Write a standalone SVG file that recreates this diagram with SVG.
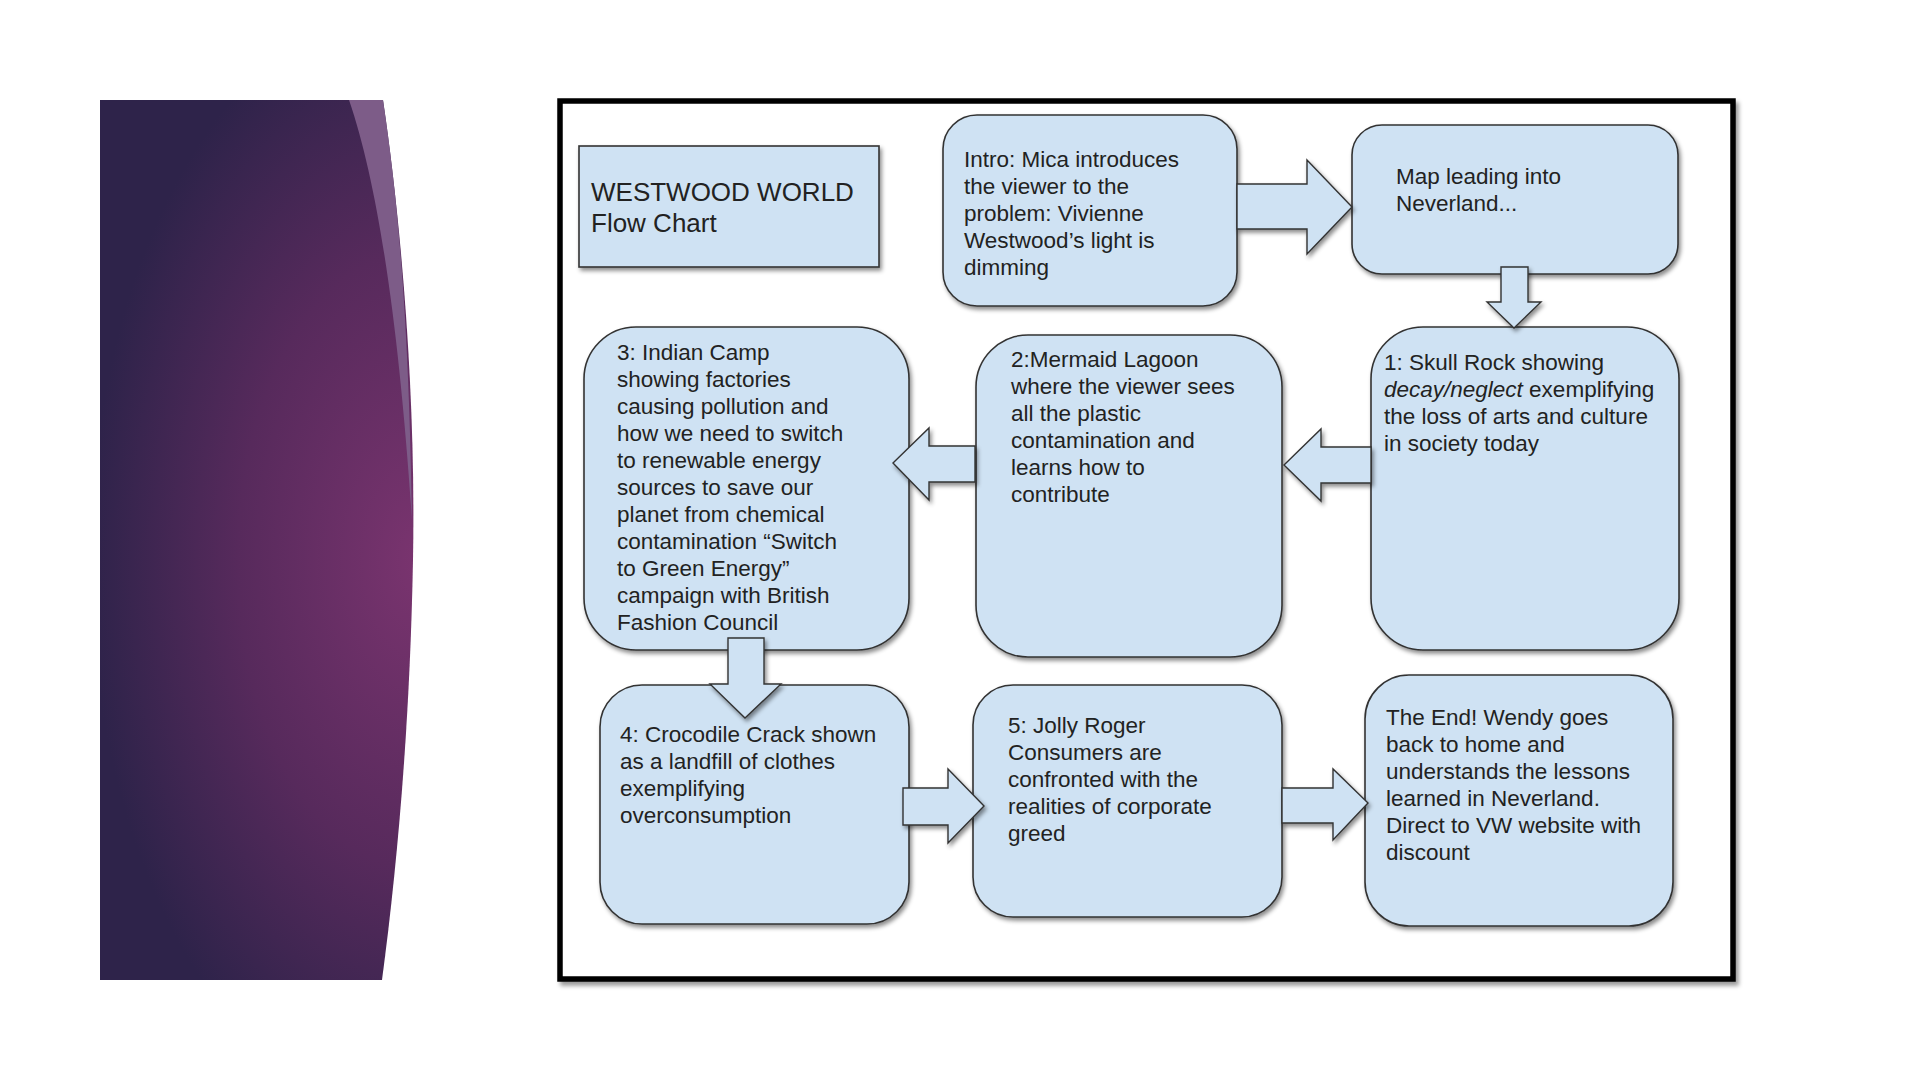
<svg xmlns="http://www.w3.org/2000/svg" width="1920" height="1080" viewBox="0 0 1920 1080">
<defs>
<radialGradient id="band" gradientUnits="userSpaceOnUse" cx="420" cy="560" r="330" gradientTransform="translate(420 560) scale(1 1.7) translate(-420 -560)">
<stop offset="0" stop-color="#7a346f"/>
<stop offset="0.55" stop-color="#572a5c"/>
<stop offset="1" stop-color="#2e234a"/>
</radialGradient>
<filter id="sh" x="-10%" y="-10%" width="125%" height="125%">
<feDropShadow dx="2" dy="3" stdDeviation="2" flood-color="#000" flood-opacity="0.45"/>
</filter>
<filter id="fsh" x="-5%" y="-5%" width="110%" height="110%">
<feDropShadow dx="3" dy="4" stdDeviation="2" flood-color="#000" flood-opacity="0.4"/>
</filter>
<style>
.box{fill:#cfe2f3;stroke:#333;stroke-width:1.6;filter:url(#sh)}
.arr{fill:#cfe2f3;stroke:#333;stroke-width:1.4;stroke-linejoin:miter;filter:url(#sh)}
text{font-family:"Liberation Sans",Arial,sans-serif;font-size:22.5px;fill:#222}
.title{font-size:26px}
</style>
</defs>
<rect width="1920" height="1080" fill="#fff"/>
<g id="side-band">
<path d="M100,100 L383,100 C402,230 416,400 413,560 C410,720 398,860 382,980 L100,980 Z" fill="url(#band)"/>
<path d="M349,100 L383,100 C398,200 409,320 412,520 C400,340 380,190 349,100 Z" fill="#7d5c88"/>
</g>
<rect id="frame" x="560" y="101" width="1173" height="878" fill="#fff" stroke="#000" stroke-width="5.5" filter="url(#fsh)"/>
<g id="title">
<rect class="box" x="579" y="146" width="300" height="121"/>
<text class="title" x="591" y="201">WESTWOOD WORLD</text>
<text class="title" x="591" y="232">Flow Chart</text>
</g>
<g id="intro">
<rect class="box" x="943" y="115" width="294" height="191" rx="34" ry="34"/>
<text x="964" y="167">Intro: Mica introduces</text>
<text x="964" y="194">the viewer to the</text>
<text x="964" y="221">problem: Vivienne</text>
<text x="964" y="248">Westwood’s light is</text>
<text x="964" y="275">dimming</text>
</g>
<g id="map">
<rect class="box" x="1352" y="125" width="326" height="149" rx="30" ry="30"/>
<text x="1396" y="184">Map leading into</text>
<text x="1396" y="211">Neverland...</text>
</g>
<g id="skull-rock">
<rect class="box" x="1371" y="327" width="308" height="323" rx="52" ry="52"/>
<text x="1384" y="370">1: Skull Rock showing</text>
<text x="1384" y="397"><tspan font-style="italic">decay/neglect</tspan> exemplifying</text>
<text x="1384" y="424">the loss of arts and culture</text>
<text x="1384" y="451">in society today</text>
</g>
<g id="mermaid-lagoon">
<rect class="box" x="976" y="335" width="306" height="322" rx="52" ry="52"/>
<text x="1011" y="367">2:Mermaid Lagoon</text>
<text x="1011" y="394">where the viewer sees</text>
<text x="1011" y="421">all the plastic</text>
<text x="1011" y="448">contamination and</text>
<text x="1011" y="475">learns how to</text>
<text x="1011" y="502">contribute</text>
</g>
<g id="indian-camp">
<rect class="box" x="584" y="327" width="325" height="323" rx="52" ry="52"/>
<text x="617" y="360">3: Indian Camp</text>
<text x="617" y="387">showing factories</text>
<text x="617" y="414">causing pollution and</text>
<text x="617" y="441">how we need to switch</text>
<text x="617" y="468">to renewable energy</text>
<text x="617" y="495">sources to save our</text>
<text x="617" y="522">planet from chemical</text>
<text x="617" y="549">contamination “Switch</text>
<text x="617" y="576">to Green Energy”</text>
<text x="617" y="603">campaign with British</text>
<text x="617" y="630">Fashion Council</text>
</g>
<g id="crocodile-crack">
<rect class="box" x="600" y="685" width="309" height="239" rx="42" ry="42"/>
<text x="620" y="742">4: Crocodile Crack shown</text>
<text x="620" y="769">as a landfill of clothes</text>
<text x="620" y="796">exemplifying</text>
<text x="620" y="823">overconsumption</text>
</g>
<g id="jolly-roger">
<rect class="box" x="973" y="685" width="309" height="232" rx="40" ry="40"/>
<text x="1008" y="733">5: Jolly Roger</text>
<text x="1008" y="760">Consumers are</text>
<text x="1008" y="787">confronted with the</text>
<text x="1008" y="814">realities of corporate</text>
<text x="1008" y="841">greed</text>
</g>
<g id="the-end">
<rect class="box" x="1365" y="675" width="308" height="251" rx="44" ry="44"/>
<text x="1386" y="725">The End! Wendy goes</text>
<text x="1386" y="752">back to home and</text>
<text x="1386" y="779">understands the lessons</text>
<text x="1386" y="806">learned in Neverland.</text>
<text x="1386" y="833">Direct to VW website with</text>
<text x="1386" y="860">discount</text>
</g>
<g id="connectors">
<polygon class="arr" points="1237,184 1307,184 1307,160 1352,207 1307,254 1307,229 1237,229"/>
<polygon class="arr" points="1501,267 1528,267 1528,302 1541,302 1514,328 1487,302 1501,302"/>
<polygon class="arr" points="1371,447 1321,447 1321,429 1284,465 1321,501 1321,483 1371,483"/>
<polygon class="arr" points="975,446 929,446 929,428 893,463 929,500 929,482 975,482"/>
<polygon class="arr" points="728,638 764,638 764,684 781,684 745,718 710,684 728,684"/>
<polygon class="arr" points="903,788 948,788 948,769 984,806 948,843 948,825 903,825"/>
<polygon class="arr" points="1282,788 1333,788 1333,769 1368,803 1333,840 1333,823 1282,823"/>
</g>
</svg>
